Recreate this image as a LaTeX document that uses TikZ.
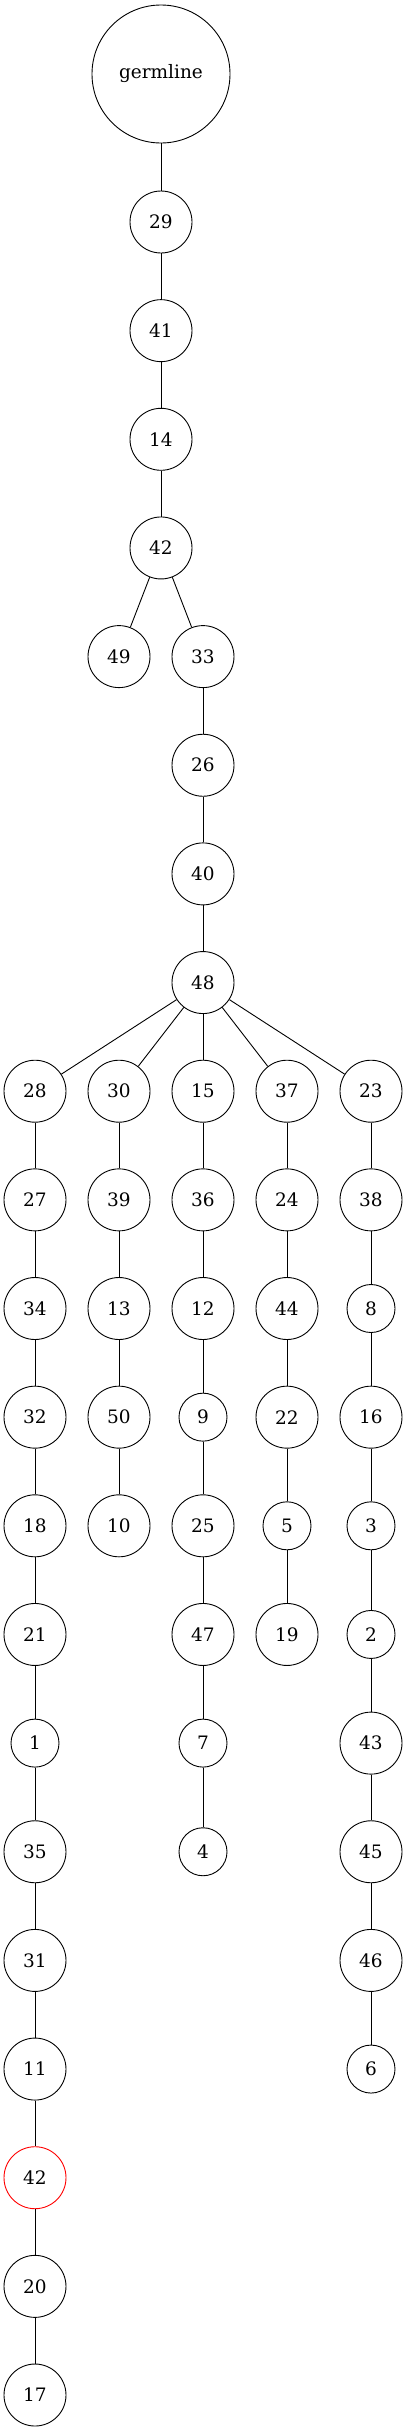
\documentclass[tikz,border=0pt]{standalone}
\usepackage{fontspec}
\setmainfont{DejaVu Serif}
\begin{document}
\begin{tikzpicture}[x=1pt,y=-1pt,
  nd/.style={circle,draw=black,line width=0.9pt,minimum size=62pt,inner sep=0pt,font=\fontsize{18.5}{20}\selectfont},
  sm/.style={nd,minimum size=48pt},
  gl/.style={nd,minimum size=138pt},
  hl/.style={nd,draw=red},
  ed/.style={line width=0.9pt,draw=black}]
\useasboundingbox (0,0) rectangle (407,2431);
\node[gl] (g) at (161,74) {germline};
\node[nd] (n29) at (161,222) {29};
\node[nd] (n41) at (161,330.65) {41};
\node[nd] (n14) at (161,439.3) {14};
\node[nd] (a42) at (161,547.95) {42};
\node[nd] (n49) at (119,656.6) {49};
\node[nd] (n33) at (203,656.6) {33};
\node[nd] (n26) at (203,765.25) {26};
\node[nd] (n40) at (203,873.9) {40};
\node[nd] (n48) at (203,982.55) {48};
% row L9
\node[nd] (n28) at (35,1091.2) {28};
\node[nd] (n30) at (119,1091.2) {30};
\node[nd] (n15) at (203,1091.2) {15};
\node[nd] (n37) at (287,1091.2) {37};
\node[nd] (n23) at (371,1091.2) {23};
% column 28
\node[nd] (n27) at (35,1199.85) {27};
\node[nd] (n34) at (35,1308.5) {34};
\node[nd] (n32) at (35,1417.15) {32};
\node[nd] (n18) at (35,1525.8) {18};
\node[nd] (n21) at (35,1634.45) {21};
\node[sm] (n1) at (35,1743.1) {1};
\node[nd] (n35) at (35,1851.75) {35};
\node[nd] (n31) at (35,1960.4) {31};
\node[nd] (n11) at (35,2069.05) {11};
\node[hl] (b42) at (35,2177.7) {42};
\node[nd] (n20) at (35,2286.35) {20};
\node[nd] (n17) at (35,2395) {17};
% column 30
\node[nd] (n39) at (119,1199.85) {39};
\node[nd] (n13) at (119,1308.5) {13};
\node[nd] (n50) at (119,1417.15) {50};
\node[nd] (n10) at (119,1525.8) {10};
% column 15
\node[nd] (n36) at (203,1199.85) {36};
\node[nd] (n12) at (203,1308.5) {12};
\node[sm] (n9) at (203,1417.15) {9};
\node[nd] (n25) at (203,1525.8) {25};
\node[nd] (n47) at (203,1634.45) {47};
\node[sm] (n7) at (203,1743.1) {7};
\node[sm] (n4) at (203,1851.75) {4};
% column 37
\node[nd] (n24) at (287,1199.85) {24};
\node[nd] (n44) at (287,1308.5) {44};
\node[nd] (n22) at (287,1417.15) {22};
\node[sm] (n5) at (287,1525.8) {5};
\node[nd] (n19) at (287,1634.45) {19};
% column 23
\node[nd] (n38) at (371,1199.85) {38};
\node[sm] (n8) at (371,1308.5) {8};
\node[nd] (n16) at (371,1417.15) {16};
\node[sm] (n3) at (371,1525.8) {3};
\node[sm] (n2) at (371,1634.45) {2};
\node[nd] (n43) at (371,1743.1) {43};
\node[nd] (n45) at (371,1851.75) {45};
\node[nd] (n46) at (371,1960.4) {46};
\node[sm] (n6) at (371,2069.05) {6};
% edges
\foreach \a/\b in {g/n29,n29/n41,n41/n14,n14/a42,a42/n49,a42/n33,n33/n26,n26/n40,n40/n48,
  n48/n28,n48/n30,n48/n15,n48/n37,n48/n23,
  n28/n27,n27/n34,n34/n32,n32/n18,n18/n21,n21/n1,n1/n35,n35/n31,n31/n11,n11/b42,b42/n20,n20/n17,
  n30/n39,n39/n13,n13/n50,n50/n10,
  n15/n36,n36/n12,n12/n9,n9/n25,n25/n47,n47/n7,n7/n4,
  n37/n24,n24/n44,n44/n22,n22/n5,n5/n19,
  n23/n38,n38/n8,n8/n16,n16/n3,n3/n2,n2/n43,n43/n45,n45/n46,n46/n6}
  \draw[ed] (\a) -- (\b);
\end{tikzpicture}
\end{document}
